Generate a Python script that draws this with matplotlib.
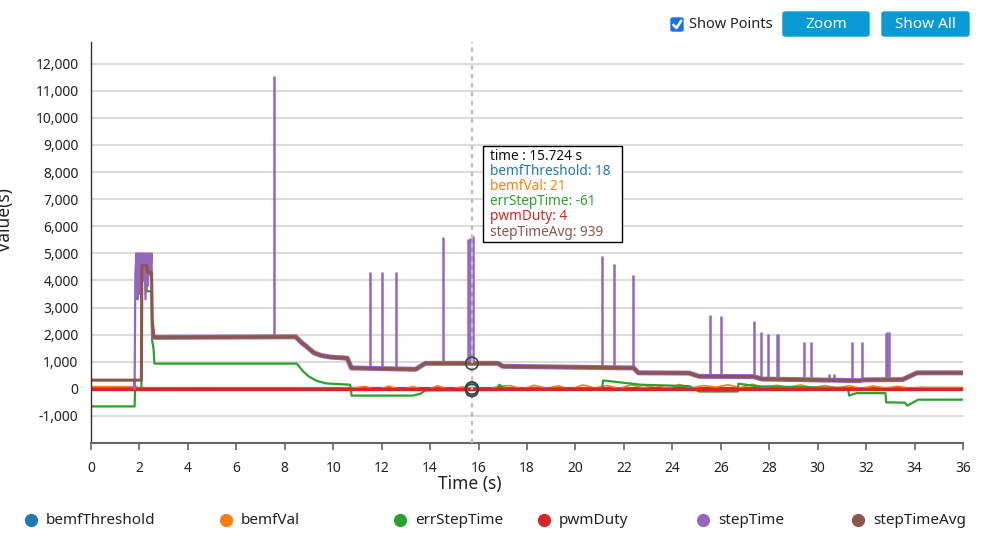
import matplotlib
matplotlib.use("Agg")
import matplotlib.pyplot as plt
from matplotlib.lines import Line2D
from matplotlib.patches import Rectangle, FancyBboxPatch
from matplotlib.ticker import FuncFormatter
import numpy as np

plt.rcParams['font.family'] = ['Noto Sans', 'DejaVu Sans']

# ---- data ----
series_names = ["bemfThreshold", "bemfVal", "errStepTime", "pwmDuty", "stepTime", "stepTimeAvg"]
series_colors = ["#1f77b4", "#ff7f0e", "#2ca02c", "#d62728", "#9467bd", "#8c564b"]

threshold_t = [0, 36]
threshold_v = [18, 18]

pwm_t = [0, 36]
pwm_v = [4, 4]

bemf_t = [0, 1.9, 1.95, 10.8, 11.3, 11.8, 12.3, 12.8, 13.3, 13.8, 14.3, 14.8, 15.3, 15.8,
          16.3, 16.8, 17.3, 17.8, 18.3, 18.8, 19.3, 19.8, 20.3, 20.8, 21.3, 21.8, 22.3,
          22.8, 23.3, 23.8, 24.3, 24.8, 25.3, 25.8, 26.3, 26.8, 27.3, 27.8, 28.3, 28.8,
          29.3, 29.8, 30.3, 30.8, 31.3, 31.8, 32.3, 32.8, 33.3, 33.8, 34.3, 34.5, 36]
bemf_v = [80, 80, 15, 20, 90, -40, 100, -30, 80, -50, 110, -20, 70, 21,
          -40, 90, 120, -10, 130, 20, 110, -20, 140, 30, 120, 10, 150,
          40, 130, 20, 160, 30, 120, 60, 150, 40, 170, 50, 130, 60,
          140, 40, 120, 30, 110, 20, 100, 30, 90, 20, 60, 50, 50]

err_t = [0, 1.80, 1.82, 2.08, 2.10, 2.28, 2.30, 2.50, 2.52, 2.58, 2.62, 8.5, 8.75, 9.0,
         9.3, 9.7, 10.7, 10.76, 13.3, 13.6, 13.8, 16.8, 16.85, 17.0, 17.2, 21.1, 21.14,
         22.7, 24.7, 25.1, 26.7, 26.73, 27.5, 31.25, 31.3, 31.6, 32.8, 32.83, 33.6, 33.7,
         34.15, 36]
err_v = [-650, -650, 0, 0, 4400, 4400, 3600, 3600, 1800, 1500, 930, 930, 650, 450,
         300, 200, 150, -250, -250, -180, -60, -40, 150, 60, 0, 20, 310,
         150, 100, -100, -100, 190, 90, 30, -250, -160, -160, -500, -510, -620,
         -400, -400]

avg_t = [0, 2.08, 2.10, 2.30, 2.33, 2.50, 2.53, 2.60, 8.45, 8.7, 8.9, 9.2, 9.5, 9.9,
         10.58, 10.75, 13.4, 13.8, 16.8, 17.0, 22.4, 22.6, 24.7, 25.1, 27.35, 27.7,
         29.2, 31.75, 31.85, 33.5, 34.1, 36]
avg_v = [320, 320, 4550, 4550, 4300, 4300, 2500, 1900, 1920, 1700, 1560, 1330, 1230, 1170,
         1130, 770, 720, 940, 940, 830, 770, 590, 580, 460, 450, 360,
         340, 300, 330, 340, 590, 590]

# stepTime start-up burst, afterwards it rides on the average
step_t = [1.78, 1.80, 1.83, 1.87, 1.92, 1.96, 2.0, 2.04, 2.08, 2.12, 2.16, 2.2, 2.25,
          2.3, 2.35, 2.4, 2.45, 2.5, 2.52, 2.56, 2.6]
step_v = [320, 0, 4150, 5000, 3300, 5000, 3500, 5000, 3300, 5000, 4000, 5000, 3300,
          5000, 3800, 5000, 4200, 5000, 2000, 1920, 1900]

spike_t = [7.56, 11.52, 12.0, 12.59, 14.55, 15.57, 15.63, 15.76, 21.11, 21.61, 22.36,
           25.56, 26.01, 27.39, 27.66, 27.97, 28.31, 28.36, 29.45, 29.71, 30.47, 30.68,
           31.43, 31.82, 32.82, 32.88, 32.95]
spike_top = [11560, 4300, 4320, 4300, 5600, 5530, 5580, 5650, 4890, 4600, 4200,
             2730, 2670, 2490, 2080, 2030, 2030, 2030, 1720, 1720, 540, 540,
             1720, 1720, 2050, 2080, 2100]
spike_base = [1920, 720, 720, 720, 940, 940, 940, 940, 780, 780, 770,
              460, 455, 450, 360, 360, 355, 355, 340, 340, 330, 330,
              310, 330, 335, 335, 335]

cursor_time = 15.724
cursor_vals = [18, 21, -61, 4, 939]
tooltip_lines = ["time : 15.724 s", "bemfThreshold: 18", "bemfVal: 21",
                 "errStepTime: -61", "pwmDuty: 4", "stepTimeAvg: 939"]
tooltip_colors = ["#111111", "#1f77b4", "#ff7f0e", "#2ca02c", "#d62728", "#8c564b"]

W, H = 999, 541
fig = plt.figure(figsize=(W / 100, H / 100), dpi=100)
ax = fig.add_axes([91 / W, 1 - 443 / H, (963 - 91) / W, (443 - 42) / H])

ax.set_xlim(0, 36)
ax.set_ylim(-2000, 12800)
ax.set_xticks(np.arange(0, 37, 2))
ax.set_yticks(np.arange(-1000, 12001, 1000))
ax.yaxis.set_major_formatter(FuncFormatter(lambda v, p: f"{int(v):,}"))
ax.grid(axis='y', color='#dcdcdc', linewidth=1.5)
ax.set_axisbelow(True)
for s in ['top', 'right']:
    ax.spines[s].set_visible(False)
ax.spines['left'].set_color('#333333')
ax.spines['left'].set_linewidth(1)
ax.spines['bottom'].set_color('#666666')
ax.spines['bottom'].set_linewidth(1.5)
ax.tick_params(axis='y', length=0, pad=9, labelsize=10, labelcolor='#222222')
ax.tick_params(axis='x', length=5, width=1.2, color='#666666', pad=8,
               labelsize=10, labelcolor='#222222')

lw = 1.6
ax.plot(threshold_t, threshold_v, color=series_colors[0], lw=lw)
ax.plot(bemf_t, bemf_v, color=series_colors[1], lw=1.2)
ax.plot(err_t, err_v, color=series_colors[2], lw=lw)
ax.plot(pwm_t, pwm_v, color=series_colors[3], lw=2.4)

# stepTime: start-up burst, noisy band under the average, spikes
ax.plot(step_t, step_v, color=series_colors[4], lw=1.6)
band_t = [t for t in avg_t if t >= 2.6]
band_v = [v for t, v in zip(avg_t, avg_v) if t >= 2.6]
ax.plot(band_t, band_v, color=series_colors[4], lw=3.6)
ax.vlines(spike_t, spike_base, spike_top, color=series_colors[4], lw=1.8)

ax.plot(avg_t, avg_v, color=series_colors[5], lw=2.2)

# cursor line and hover markers
ax.axvline(cursor_time, color='#bdbdbd', lw=1.6, linestyle=(0, (2, 2)), zorder=5)
ax.scatter([cursor_time] * len(cursor_vals), cursor_vals, s=80, facecolors='none',
           edgecolors='#37474f', linewidths=1.2, zorder=6)

# tooltip
fig.add_artist(Rectangle((483 / W, 1 - 242 / H), (622 - 483) / W, (242 - 146) / H,
                         transform=fig.transFigure, facecolor='white',
                         edgecolor='black', lw=1, zorder=10))
for i, (txt, c) in enumerate(zip(tooltip_lines, tooltip_colors)):
    fig.text(490 / W, 1 - (156 + i * 15.2) / H, txt, color=c, fontsize=9.8,
             va='center', ha='left', zorder=11)

# axis titles
fig.text(470 / W, 1 - 484 / H, "Time (s)", fontsize=12.5, ha='center', va='center', color='#222222')
fig.text(5 / W, 1 - 220 / H, "Value(s)", fontsize=12.5, rotation=90, ha='center', va='center',
         color='#222222')

# legend along the bottom
legend_x = [31, 226, 400, 544, 703, 858]
for x, name, c in zip(legend_x, series_names, series_colors):
    fig.add_artist(Line2D([x / W], [1 - 520 / H], marker='o', markersize=8.5, color=c,
                          linestyle='none', transform=fig.transFigure))
    fig.text((x + 15) / W, 1 - 520 / H, name, fontsize=11, va='center', ha='left',
             color='#222222')

# controls at the top right
fig.add_artist(FancyBboxPatch((671 / W, 1 - 31 / H), 12 / W, 13 / H,
                              boxstyle="round,pad=0,rounding_size=0.002",
                              transform=fig.transFigure, facecolor='#1a73e8',
                              edgecolor='#1a73e8'))
fig.add_artist(Line2D([673.5 / W, 676.5 / W, 681 / W], [1 - 25 / H, 1 - 28 / H, 1 - 21 / H],
                      color='white', lw=1.8, transform=fig.transFigure))
fig.text(689 / W, 1 - 25 / H, "Show Points", fontsize=10.5, va='center', ha='left', color='#222222')
for x0, x1, label in [(783, 869, "Zoom"), (882, 969, "Show All")]:
    fig.add_artist(FancyBboxPatch((x0 / W, 1 - 36 / H), (x1 - x0) / W, 24 / H,
                                  boxstyle="round,pad=0,rounding_size=0.003",
                                  transform=fig.transFigure, facecolor='#0a9ad3',
                                  edgecolor='#0a9ad3'))
    fig.text((x0 + x1) / 2 / W, 1 - 24 / H, label, fontsize=11, va='center', ha='center',
             color='white')

fig.savefig("out.png", dpi=100)
